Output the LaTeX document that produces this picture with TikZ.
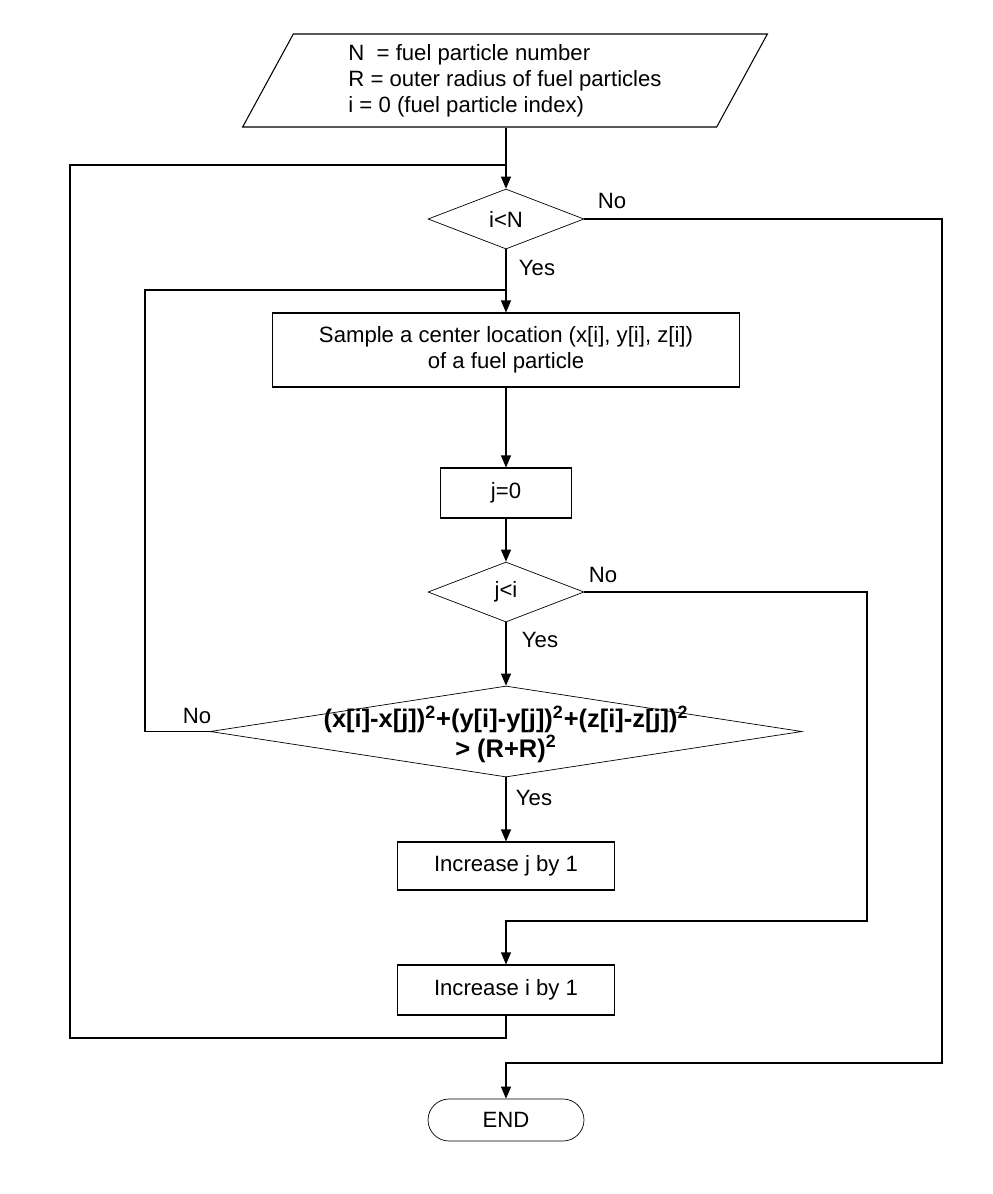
\documentclass[tikz,border=0pt]{standalone}
\usepackage{fontspec}
\setmainfont{Liberation Sans}
\usepackage{tikz}
\usetikzlibrary{shapes, arrows.meta, positioning, calc}

\begin{document}
\begin{tikzpicture}[x=0.02cm, y=-0.02cm,
    font=\fontsize{12.6}{14.8}\selectfont,
    flowline/.style={line width=0.6pt},
    flowarrow/.style={line width=0.6pt, -{Triangle[length=0.24cm, width=0.2cm]}},
    procbox/.style={draw, line width=0.6pt, align=center, inner sep=0pt},
    decision/.style={draw, diamond, line width=0.4pt, inner sep=0pt, aspect=2.6},
    branchlabel/.style={inner sep=0pt}]
  \useasboundingbox (0,0) rectangle (992,1194);

  % Input data
  \node[draw, trapezium, trapezium left angle=62.7, trapezium right angle=117.3, trapezium stretches=true,
        line width=0.6pt, minimum width=10.52cm, minimum height=1.86cm, align=left, inner sep=0pt] (input) at (505,80.5) {
    N\ \ = fuel particle number\\
    R = outer radius of fuel particles\\
    i = 0 (fuel particle index)
  };

  % Outer loop test
  \node[decision, minimum width=3.12cm, minimum height=1.2cm] (iN) at (506,219) {i<N};
  \node[branchlabel] (iNno) at (612,201) {No};
  \node[branchlabel] (iNyes) at (537,268) {Yes};

  % Sampling
  \node[procbox, minimum width=9.36cm, minimum height=1.48cm] (sample) at (506,350) {
    Sample a center location (x[i], y[i], z[i])\\
    of a fuel particle
  };
  \node[procbox, minimum width=2.62cm, minimum height=1.0cm] (jzero) at (506,493) {j=0};

  % Inner loop test
  \node[decision, minimum width=3.12cm, minimum height=1.2cm] (jLi) at (506,592) {j<i};
  \node[branchlabel] (jLino) at (603,575) {No};
  \node[branchlabel] (jLiyes) at (540,640) {Yes};

  % Overlap test
  \node[decision, minimum width=11.84cm, minimum height=1.82cm] (overlap) at (506,731.5) {};
  \node[font=\fontsize{14.5}{17}\selectfont\bfseries, align=center, inner sep=0pt] (overlaptxt) at (506,734) {
    (x[i]-x[j])\textsuperscript{2}+(y[i]-y[j])\textsuperscript{2}+(z[i]-z[j])\textsuperscript{2}\\
    > (R+R)\textsuperscript{2}
  };
  \node[branchlabel] (overlapno) at (197,716) {No};
  \node[branchlabel] (overlapyes) at (534,798) {Yes};

  % Counters
  \node[procbox, minimum width=4.34cm, minimum height=0.96cm] (incj) at (506,866) {Increase j by 1};
  \node[procbox, minimum width=4.34cm, minimum height=1.0cm] (inci) at (506,990) {Increase i by 1};

  % End
  \node[draw, rounded corners=0.42cm, line width=0.4pt, minimum width=3.12cm, minimum height=0.84cm, inner sep=0pt] (endn) at (506,1120) {END};

  % Corner points of the loops
  \coordinate (topjoin) at (506,165);
  \coordinate (ioutL) at (70,1038);
  \coordinate (sampjoin) at (506,290);
  \coordinate (joutL) at (145,290);
  \coordinate (iNoR) at (942,1063);
  \coordinate (jNoR) at (867,921);

  % Connectors
  \draw[flowarrow] (input.south -| iN.north) -- (iN.north);
  \draw[flowline] (inci.south) |- (ioutL) |- (topjoin);
  \draw[flowarrow] (iN.south) -- (sample.north);
  \draw[flowarrow] (iN.east) -| (iNoR) -| (endn.north);
  \draw[flowarrow] (sample.south) -- (jzero.north);
  \draw[flowarrow] (jzero.south) -- (jLi.north);
  \draw[flowarrow] (jLi.south) -- (overlap.north);
  \draw[flowarrow] (jLi.east) -| (jNoR) -| (inci.north);
  \draw[flowline] (overlap.west) -| (joutL) -- (sampjoin);
  \draw[flowarrow] (overlap.south) -- (incj.north);
\end{tikzpicture}
\end{document}
